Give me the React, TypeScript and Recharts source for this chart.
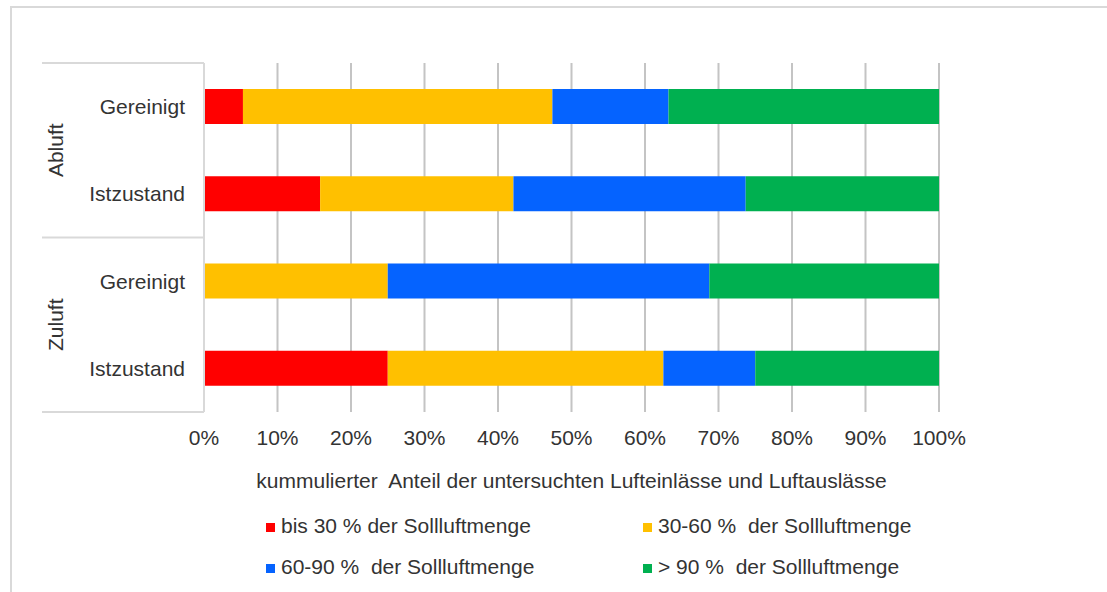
import React from 'react';
import {
  Bar,
  BarChart,
  CartesianGrid,
  Legend,
  XAxis,
  YAxis,
} from 'recharts';

// rows top -> bottom
const groups = ['Abluft', 'Abluft', 'Zuluft', 'Zuluft'];
const categories = ['Gereinigt', 'Istzustand', 'Gereinigt', 'Istzustand'];

// share in % of inspected inlets/outlets per flow class
const bis30 = [5.3, 15.8, 0, 25];
const from30to60 = [42.1, 26.3, 25, 37.5];
const from60to90 = [15.8, 31.6, 43.75, 12.5];
const over90 = [36.8, 26.3, 31.25, 25];

const xTicks = [0, 10, 20, 30, 40, 50, 60, 70, 80, 90, 100];

const seriesKeys = ['bis30', 'from30to60', 'from60to90', 'over90'];
const seriesNames = [
  'bis 30 % der Sollluftmenge',
  '30-60 %  der Sollluftmenge',
  '60-90 %  der Sollluftmenge',
  '> 90 %  der Sollluftmenge',
];
const seriesColors = ['#ff0000', '#ffc000', '#0563ff', '#00b050'];

const xTitle = 'kummulierter  Anteil der untersuchten Lufteinlässe und Luftauslässe';

const W = 1107;
const H = 592;
const MARGIN = { top: 63, right: 168, bottom: 5, left: 0 };
const Y_AXIS_W = 204;
const X_AXIS_H = 93;
const LEGEND_H = 82;
const PLOT_H = H - MARGIN.top - MARGIN.bottom - X_AXIS_H - LEGEND_H;
const BAND = PLOT_H / categories.length;

const FONT = '"Liberation Sans", Arial, sans-serif';
const TEXT = '#333333';
const RULE = '#d9d9d9';

const data = categories.map((c, i) => ({
  row: `${groups[i]}-${c}`,
  bis30: bis30[i],
  from30to60: from30to60[i],
  from60to90: from60to90[i],
  over90: over90[i],
}));

function RowTick(props: any) {
  const { x, y, index } = props;
  const i = index ?? props.payload?.index ?? 0;
  const isFirst = i === 0 || groups[i] !== groups[i - 1];
  const isLast = i === categories.length - 1;
  const span = groups.filter((g) => g === groups[i]).length;
  const top = y - BAND / 2;
  const mid = top + (span * BAND) / 2;
  return (
    <g>
      <text
        x={x}
        y={y}
        textAnchor="end"
        dominantBaseline="central"
        fill={TEXT}
        fontSize={21}
        fontFamily={FONT}
      >
        {categories[i]}
      </text>
      {isFirst && (
        <>
          <line x1={42} x2={Y_AXIS_W} y1={top} y2={top} stroke={RULE} strokeWidth={2} />
          <text
            x={55}
            y={mid}
            transform={`rotate(-90 55 ${mid})`}
            textAnchor="middle"
            dominantBaseline="central"
            fill={TEXT}
            fontSize={21}
            fontFamily={FONT}
          >
            {groups[i]}
          </text>
        </>
      )}
      {isLast && (
        <line
          x1={42}
          x2={Y_AXIS_W}
          y1={y + BAND / 2}
          y2={y + BAND / 2}
          stroke={RULE}
          strokeWidth={2}
        />
      )}
    </g>
  );
}

function XTitle(props: any) {
  const vb = props.viewBox ?? {};
  return (
    <text
      x={vb.x + vb.width / 2}
      y={vb.y + vb.height - 17}
      textAnchor="middle"
      fill={TEXT}
      fontSize={21}
      fontFamily={FONT}
      style={{ whiteSpace: 'pre' }}
    >
      {xTitle}
    </text>
  );
}

function LegendBox() {
  return (
    <div
      style={{
        height: LEGEND_H,
        paddingLeft: 266,
        display: 'grid',
        gridTemplateColumns: '377px auto',
        gridAutoRows: '41px',
        fontFamily: FONT,
        fontSize: 21,
        color: TEXT,
        boxSizing: 'border-box',
      }}
    >
      {seriesNames.map((name, i) => (
        <div key={name} style={{ display: 'flex', alignItems: 'center' }}>
          <span
            style={{
              width: 9,
              height: 9,
              background: seriesColors[i],
              marginRight: 6,
              marginTop: 3,
              flex: 'none',
            }}
          />
          <span style={{ whiteSpace: 'pre' }}>{name}</span>
        </div>
      ))}
    </div>
  );
}

export default function App() {
  return (
    <>
      <div
        style={{
          position: 'absolute',
          left: 10,
          top: 6,
          width: W - 10,
          height: H - 6,
          borderTop: `2px solid ${RULE}`,
          borderLeft: `2px solid ${RULE}`,
          boxSizing: 'border-box',
        }}
      />
      <div style={{ position: 'absolute', left: 0, top: 0, width: W, height: H }}>
        <BarChart
          width={W}
          height={H}
          data={data}
          layout="vertical"
          margin={MARGIN}
          barSize={35}
        >
          <CartesianGrid horizontal={false} stroke="#c4c4c4" strokeWidth={2} />
          <XAxis
            type="number"
            domain={[0, 100]}
            ticks={xTicks}
            tickFormatter={(v) => `${v}%`}
            axisLine={false}
            tickLine={false}
            tickSize={6}
            tickMargin={12}
            height={X_AXIS_H}
            tick={{ fill: TEXT, fontSize: 21, fontFamily: FONT }}
            label={<XTitle />}
          />
          <YAxis
            type="category"
            dataKey="row"
            width={Y_AXIS_W}
            axisLine={{ stroke: RULE, strokeWidth: 2 }}
            tickLine={false}
            tickSize={6}
            tickMargin={13}
            tick={<RowTick />}
            interval={0}
          />
          {seriesKeys.map((k, i) => (
            <Bar
              key={k}
              dataKey={k}
              name={seriesNames[i]}
              stackId="share"
              fill={seriesColors[i]}
              isAnimationActive={false}
            />
          ))}
          <Legend
            verticalAlign="bottom"
            content={<LegendBox />}
            wrapperStyle={{ left: 0, width: W, height: LEGEND_H }}
          />
        </BarChart>
      </div>
    </>
  );
}
